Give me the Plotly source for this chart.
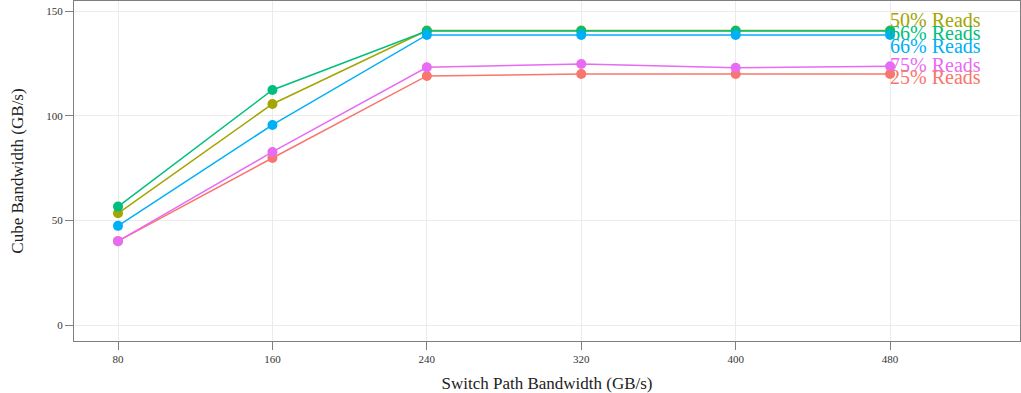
import plotly.graph_objects as go

# Switch path bandwidth (GB/s) on the x axis
switch_bw = [80, 160, 240, 320, 400, 480]

# Cube bandwidth (GB/s) for each read mix
series_names = ["25% Reads", "50% Reads", "66% Reads", "66% Reads", "75% Reads"]
reads_25 = [40.1, 79.8, 119.0, 119.9, 119.9, 119.9]
reads_50 = [53.4, 105.6, 140.7, 140.7, 140.7, 140.7]
reads_66a = [56.6, 112.3, 140.5, 140.5, 140.5, 140.5]
reads_66b = [47.4, 95.6, 138.6, 138.6, 138.6, 138.6]
reads_75 = [40.1, 82.7, 123.1, 124.7, 122.9, 123.6]
series_values = [reads_25, reads_50, reads_66a, reads_66b, reads_75]
series_colors = ["#F8766D", "#A3A500", "#00BF7D", "#00B0F6", "#E76BF3"]

# Direct labels at the right end, spread vertically so they stay readable
label_order = [1, 2, 3, 4, 0]
label_y = [145.9, 139.6, 133.4, 124.3, 118.6]

x_ticks = [80, 160, 240, 320, 400, 480]
y_ticks = [0, 50, 100, 150]

FONT = "Liberation Serif"

fig = go.Figure()
for name, vals, col in zip(series_names, series_values, series_colors):
    fig.add_trace(go.Scatter(
        x=switch_bw, y=vals, name=name, mode="lines+markers",
        line=dict(color=col, width=1.5),
        marker=dict(color=col, size=10),
        showlegend=False,
    ))

for idx, ly in zip(label_order, label_y):
    fig.add_annotation(
        x=switch_bw[-1], y=ly, text=series_names[idx],
        xanchor="left", yanchor="middle", showarrow=False,
        xshift=-2,
        font=dict(family=FONT, size=20, color=series_colors[idx]),
    )

axis_common = dict(
    showline=True, linecolor="#7f7f7f", linewidth=1.2, mirror=True,
    showgrid=True, gridcolor="#EBEBEB", gridwidth=1,
    zeroline=False,
    ticks="outside", ticklen=8, tickcolor="#7f7f7f", tickwidth=1,
    tickfont=dict(family=FONT, size=11, color="#333333"),
)

fig.update_xaxes(
    range=[57.2, 547.3], tickvals=x_ticks,
    title=dict(text="Switch Path Bandwidth (GB/s)",
               font=dict(family=FONT, size=17, color="#222222"), standoff=12),
    **axis_common,
)
fig.update_yaxes(
    range=[-7.6, 154.8], tickvals=y_ticks,
    title=dict(text="Cube Bandwidth (GB/s)",
               font=dict(family=FONT, size=17, color="#222222"), standoff=18),
    **axis_common,
)

fig.update_layout(
    width=1021, height=393,
    margin=dict(l=74, r=1, t=1, b=52),
    plot_bgcolor="white", paper_bgcolor="white",
)

fig.write_html("out.html")
